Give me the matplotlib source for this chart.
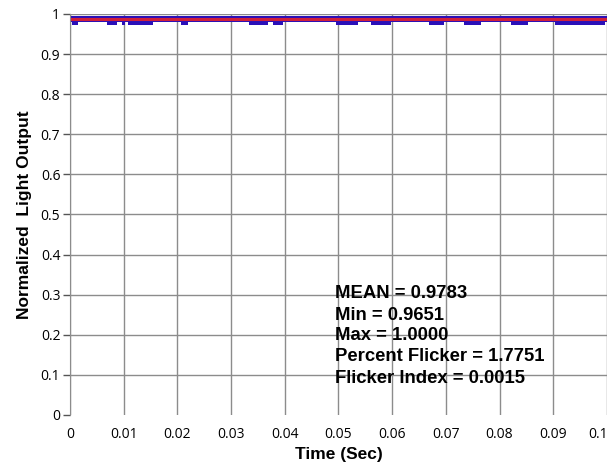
import numpy as np
import matplotlib
matplotlib.use("Agg")
import matplotlib.pyplot as plt
from matplotlib.transforms import ScaledTranslation

plt.rcParams['font.family'] = ['Liberation Sans', 'DejaVu Sans']

# lecturas del gráfico (segundos / salida normalizada)
band_top = 0.995
band_bottom = 0.980
dip_level = 0.972
red_level = 0.987
dip_start = [0.0004, 0.0069, 0.0097, 0.0108, 0.0206, 0.0333, 0.0378, 0.0495,
             0.0561, 0.0669, 0.0733, 0.0822, 0.0903]
dip_end = [0.0015, 0.0088, 0.0103, 0.0155, 0.0219, 0.0368, 0.0396, 0.0536,
           0.0598, 0.0697, 0.0766, 0.0854, 0.0996]

stats_text = ["MEAN = 0.9783", "Min = 0.9651", "Max = 1.0000",
              "Percent Flicker = 1.7751", "Flicker Index = 0.0015"]
stats_y = [0.304, 0.249, 0.197, 0.145, 0.090]

xticks = [0, 0.01, 0.02, 0.03, 0.04, 0.05, 0.06, 0.07, 0.08, 0.09, 0.1]
xlabels = ["0", "0.01", "0.02", "0.03", "0.04", "0.05", "0.06", "0.07", "0.08", "0.09", "0.1"]
yticks = [0, 0.1, 0.2, 0.3, 0.4, 0.5, 0.6, 0.7, 0.8, 0.9, 1]
ylabels = ["0", "0.1", "0.2", "0.3", "0.4", "0.5", "0.6", "0.7", "0.8", "0.9", "1"]

# envolvente inferior escalonada
t = [0.0]
low = [band_bottom]
for s, e in zip(dip_start, dip_end):
    t += [s, s, e, e]
    low += [band_bottom, dip_level, dip_level, band_bottom]
t.append(0.1)
low.append(band_bottom)
t = np.array(t)
low = np.array(low)

fig = plt.figure(figsize=(6.15, 4.72), dpi=100)
ax = fig.add_axes([0.1138, 0.1208, 0.873, 0.8496])

ax.fill_between(t, low, band_top, color='#2a10b8', linewidth=0)
ax.plot([0, 0.1], [red_level, red_level], color='#d0203a', linewidth=2.2)

for txt, yy in zip(stats_text, stats_y):
    ax.text(0.0493, yy, txt, fontsize=13.3, fontweight='bold', va='center', ha='left')

ax.set_xlim(0, 0.1)
ax.set_ylim(0, 1)
ax.set_xticks(xticks)
ax.set_xticklabels(xlabels, family='Open Sans', fontsize=10)
ax.set_yticks(yticks)
ax.set_yticklabels(ylabels, family='Open Sans', fontsize=10)
ax.tick_params(axis='x', length=0, pad=9)
ax.tick_params(axis='y', length=5, width=1, color='#555555', pad=2)

# el último rótulo "0.1" queda pegado al borde
last = ax.get_xticklabels()[-1]
last.set_transform(last.get_transform() + ScaledTranslation(-6 / 72, 0, fig.dpi_scale_trans))

ax.grid(True, color='#8c8c8c', linewidth=1)
ax.yaxis.get_gridlines()[0].set_visible(False)
ax.set_axisbelow(True)
for side in ['top', 'right', 'bottom']:
    ax.spines[side].set_visible(False)
ax.spines['left'].set_color('#8c8c8c')

ax.set_xlabel("Time (Sec)", fontsize=12.5, fontweight='bold', labelpad=3)
ax.set_ylabel("Normalized  Light Output", fontsize=12.5, fontweight='bold', labelpad=6)

fig.savefig("out.png", dpi=100)
